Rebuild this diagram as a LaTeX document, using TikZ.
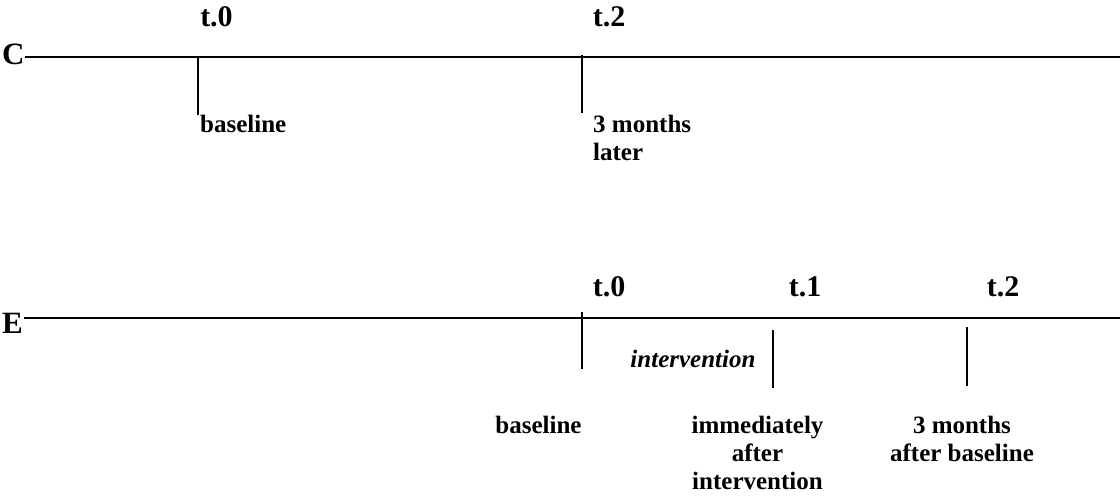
\documentclass[tikz,border=0pt]{standalone}
\usepackage{fontspec}
\setmainfont{Liberation Serif}
\usetikzlibrary{positioning}

\tikzset{
  axis/.style={line width=1.6pt},
  timetick/.style={line width=1.3pt},
  group/.style={font=\bfseries\fontsize{31}{34}\selectfont, anchor=base west, inner sep=0pt},
  tlabel/.style={font=\bfseries\fontsize{30}{32}\selectfont, anchor=base, inner sep=0pt},
  note/.style={font=\bfseries\fontsize{25}{28}\selectfont, anchor=base, inner sep=0pt, align=center}
}

\begin{document}
\begin{tikzpicture}[x=1pt, y=-1pt]
  \useasboundingbox (0,0) rectangle (1120,497);

  % control group
  \node[group] (C) at (2,65) {C};
  \coordinate (cstart) at (25,57);
  \coordinate (cend) at (1120,57);
  \draw[axis] (cstart) -- (cend);

  \node[tlabel] (ct0) at (216.5,27) {t.0};
  \node[tlabel] (ct2) at (609,27) {t.2};
  \coordinate (ctick0) at (198,57);
  \coordinate (ctick2) at (582,55);
  \draw[timetick] (ctick0) -- ++(0,58);
  \draw[timetick] (ctick2) -- ++(0,58);
  \node[note, anchor=base west] (cbase) at (200,133) {baseline};
  % base anchor of a two-line node sits on its last line
  \node[note, anchor=base west, align=left] (clater) at (593,161) {3 months\\later};

  % experimental group
  \node[group] (E) at (2,334) {E};
  \coordinate (estart) at (24,318);
  \coordinate (eend) at (1120,318);
  \draw[axis] (estart) -- (eend);

  \node[tlabel] (et0) at (609,297) {t.0};
  \node[tlabel] (et1) at (805,297) {t.1};
  \node[tlabel] (et2) at (1003,297) {t.2};
  \coordinate (etick0) at (582,312);
  \coordinate (etick1) at (773,330);
  \coordinate (etick2) at (967,327);
  \draw[timetick] (etick0) -- ++(0,57);
  \draw[timetick] (etick1) -- ++(0,58);
  \draw[timetick] (etick2) -- ++(0,59);

  \node[note, font=\bfseries\itshape\fontsize{25}{28}\selectfont] (interv) at (693,367) {intervention};
  \node[note] (ebase) at (538.5,433) {baseline};
  \node[note] (eafter) at (757.5,489) {immediately\\after\\intervention};
  \node[note] (elater) at (962,461) {3 months\\after baseline};
\end{tikzpicture}
\end{document}
